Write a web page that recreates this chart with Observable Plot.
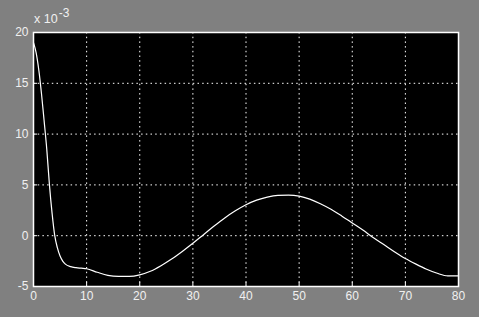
<!DOCTYPE html>
<html>
<head>
<meta charset="utf-8">
<script src="https://cdn.jsdelivr.net/npm/d3@7"></script>
<script src="https://cdn.jsdelivr.net/npm/@observablehq/plot@0.6"></script>
<style>
  html, body { margin: 0; padding: 0; background: #808080; }
  #wrap { position: relative; width: 479px; height: 317px; overflow: hidden; }
  #exp { position: absolute; left: 34px; top: 12px; font: 12.5px "Liberation Sans", Arial, sans-serif; color: #f0f0f0; line-height: 14px; }
  #exp sup { font-size: 12px; position: relative; top: -6px; vertical-align: baseline; margin-left: 1px; }
</style>
</head>
<body>
<div id="wrap"><div id="exp">x 10<sup>-3</sup></div></div>
<script>
const t = [0,0.5,1,1.5,2,2.5,3,3.5,4,4.5,5,5.5,6,7,8,9,10,12,14,16,18,20,22,24,26,28,30,32,34,36,38,40,42,44,46,48,50,52,54,56,58,60,62,64,66,68,70,72,74,76,78,80];
const v = [19.0,18.0,16.3,14,11.3,8.5,5,2.2,0,-1.2,-2,-2.5,-2.8,-3.05,-3.15,-3.2,-3.25,-3.6,-3.9,-4.0,-4.0,-3.85,-3.5,-2.95,-2.3,-1.55,-0.75,0.1,0.95,1.75,2.45,3.05,3.5,3.8,3.97,4.0,3.9,3.6,3.15,2.6,1.95,1.25,0.55,-0.2,-0.9,-1.6,-2.25,-2.8,-3.3,-3.7,-3.95,-3.95];
const xTicks = [0,10,20,30,40,50,60,70,80];
const yTicks = [-5,0,5,10,15,20];
const xGrid = [10,20,30,40,50,60,70];
const yGrid = [0,5,10,15];

const data = t.map((d, i) => ({t: d, v: v[i]}));

const chart = Plot.plot({
  width: 479,
  height: 317,
  marginLeft: 33,
  marginTop: 32,
  marginRight: 21,
  marginBottom: 31,
  style: {background: "#808080", fontFamily: "Liberation Sans, Arial, sans-serif", fontSize: "12px", color: "#f0f0f0"},
  x: {domain: [0, 80]},
  y: {domain: [-5, 20]},
  marks: [
    Plot.frame({fill: "black"}),
    Plot.ruleX(xGrid, {stroke: "white", strokeDasharray: "1.5,3.2", strokeWidth: 1}),
    Plot.ruleY(yGrid, {stroke: "white", strokeDasharray: "1.5,3.2", strokeWidth: 1}),
    Plot.axisX({ticks: xTicks, tickSize: 0, tickPadding: 5, label: null, color: "#f0f0f0"}),
    Plot.axisY({ticks: yTicks, tickSize: 0, tickPadding: 5, label: null, color: "#f0f0f0", tickFormat: d => String(d)}),
    Plot.axisX({ticks: xTicks, tickSize: -4, tickFormat: () => "", label: null, stroke: "white"}),
    Plot.axisY({ticks: yTicks, tickSize: -4, tickFormat: () => "", label: null, stroke: "white"}),
    Plot.line(data, {x: "t", y: "v", stroke: "white", strokeWidth: 1.2, curve: "monotone-x"}),
    Plot.frame({stroke: "white", strokeWidth: 1.5})
  ]
});
document.getElementById("wrap").prepend(chart);
chart.style.position = "absolute";
chart.style.left = "0";
chart.style.top = "0";
</script>
</body>
</html>
